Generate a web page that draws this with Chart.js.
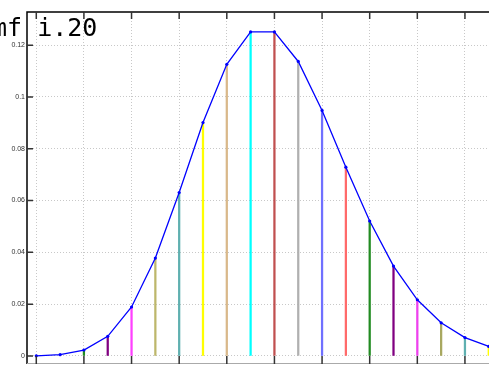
<!DOCTYPE html>
<html>
<head>
<meta charset="utf-8">
<script src="https://cdn.jsdelivr.net/npm/chart.js@4/dist/chart.umd.min.js"></script>
<style>
html,body{margin:0;padding:0;background:#fff;overflow:hidden;}
canvas{display:block;}
</style>
</head>
<body>
<canvas id="c" width="489" height="365"></canvas>
<script>
// ---- data ----
const categories = [0,1,2,3,4,5,6,7,8,9,10,11,12,13,14,15,16,17,18,19];
const pmfValues = [0.00005,0.0005,0.0023,0.0076,0.0189,0.0378,0.0631,0.0901,0.1126,0.1251,
                   0.1251,0.1137,0.0948,0.0729,0.0521,0.0347,0.0217,0.0128,0.0071,0.0037];
const yTickValues = [0,0.02,0.04,0.06,0.08,0.1,0.12];
const xTickValues = [0,2,4,6,8,10,12,14,16,18];
const titleText = "mf i.20";

// ---- styles ----
const stemColors = ["#7070FF","#FF6A6A","#228B22","#800080","#FF40FF","#BDB76B","#5FB0B0","#FFFF00",
                    "#D9B88A","#00FFFF","#C05050","#B0B0B0","#7070FF","#FF6A6A","#228B22","#800080",
                    "#EE40EE","#A8A860","#5FB0B0","#FFFF00"];

const stemData = categories.map((k,i)=>({x:k,y:pmfValues[i]}));

const axesPlugin = {
  id:'axesPlugin',
  afterDatasetsDraw(chart){
    const ctx = chart.ctx, a = chart.chartArea;
    const xs = chart.scales.x, ys = chart.scales.y;
    ctx.save();
    ctx.strokeStyle = '#000';
    ctx.lineWidth = 1.5;
    ctx.beginPath();
    ctx.moveTo(a.left, a.bottom); ctx.lineTo(a.left, a.top); ctx.lineTo(a.right, a.top);
    ctx.stroke();
    ctx.strokeStyle = '#aaa';
    ctx.lineWidth = 1;
    ctx.beginPath();
    ctx.moveTo(a.left, a.bottom-0.5); ctx.lineTo(a.right, a.bottom-0.5);
    ctx.stroke();
    ctx.strokeStyle = '#333';
    ctx.lineWidth = 1.5;
    ctx.beginPath();
    yTickValues.forEach(v=>{
      const py = ys.getPixelForValue(v);
      ctx.moveTo(a.left, py); ctx.lineTo(a.left+6, py);
    });
    xTickValues.forEach(v=>{
      const px = xs.getPixelForValue(v);
      ctx.moveTo(px, a.bottom); ctx.lineTo(px, a.bottom-8);
      ctx.moveTo(px, a.top); ctx.lineTo(px, a.top+7);
    });
    ctx.stroke();
    ctx.restore();
  },
  afterDraw(chart){
    const ctx = chart.ctx;
    ctx.save();
    ctx.fillStyle = '#000';
    ctx.font = "25px 'DejaVu Sans Mono'";
    ctx.textBaseline = 'alphabetic';
    ctx.textAlign = 'left';
    ctx.fillText(titleText, -8, 36);
    ctx.restore();
  }
};

new Chart(document.getElementById('c'), {
  data: {
    datasets: [
      {
        type:'bar',
        data: stemData,
        backgroundColor: stemColors,
        borderWidth: 0,
        barThickness: 1.6,
        grouped: false,
        order: 2
      },
      {
        type:'line',
        data: stemData,
        borderColor:'#0000FF',
        backgroundColor:'#0000FF',
        borderWidth:1.3,
        pointRadius:1.6,
        pointBorderWidth:0,
        tension:0,
        clip: false,
        order: 1
      }
    ]
  },
  options: {
    responsive:false,
    animation:false,
    events:[],
    layout:{autoPadding:false, padding:{top:12,left:0,right:0,bottom:0}},
    plugins:{legend:{display:false},tooltip:{enabled:false},title:{display:false}},
    scales:{
      x:{
        type:'linear',
        offset:false,
        min:-0.39, max:19.01,
        afterBuildTicks: s => { s.ticks = xTickValues.map(v=>({value:v})); },
        afterFit: s => { s.height = 1; s.paddingLeft = 0; s.paddingRight = 0; },
        ticks:{display:false},
        grid:{color:'#c8c8c8', lineWidth:1, drawTicks:false, offset:false},
        border:{display:false, dash:[1,2]}
      },
      y:{
        type:'linear',
        min:-0.0031, max:0.1328,
        afterBuildTicks: s => { s.ticks = yTickValues.map(v=>({value:v})); },
        afterFit: s => { s.width = 27; s.paddingTop = 0; s.paddingBottom = 0; },
        ticks:{
          padding:2,
          color:'#333',
          font:{family:"'Liberation Sans', Arial, sans-serif", size:7},
          callback: v => String(+(+v).toFixed(2))
        },
        grid:{color:'#c8c8c8', lineWidth:1, drawTicks:false},
        border:{display:false, dash:[1,2]}
      }
    }
  },
  plugins:[axesPlugin]
});
</script>
</body>
</html>
